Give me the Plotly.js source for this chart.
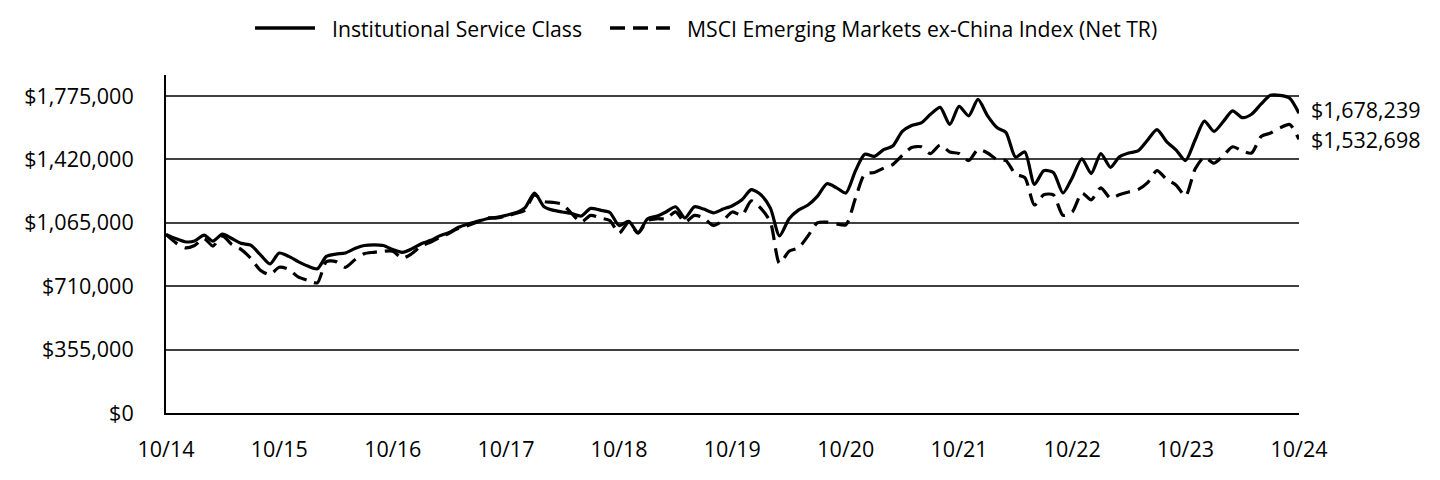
<!DOCTYPE html>
<html>
<head>
<meta charset="utf-8">
<script src="https://cdn.plot.ly/plotly-3.0.1.min.js"></script>
<style>html,body{margin:0;padding:0;background:#fff;}#chart{width:1440px;height:480px;}</style>
</head>
<body>
<div id="chart"></div>
<script>
// Monthly values, Oct 2014 .. Oct 2024 (121 points)
const institutionalServiceClass = [
  1000000, 977000, 959000, 963000, 996000, 963000, 1002000, 977000, 950000, 940000,
  887000, 835000, 896000, 877000, 848000, 823000, 808000, 877000, 890000, 896000,
  921000, 938000, 942000, 938000, 915000, 900000, 919000, 948000, 967000, 992000,
  1011000, 1040000, 1059000, 1073000, 1088000, 1096000, 1107000, 1121000, 1149000, 1232000,
  1155000, 1136000, 1126000, 1117000, 1103000, 1146000, 1136000, 1123000, 1050000, 1073000,
  1011000, 1088000, 1103000, 1126000, 1155000, 1092000, 1155000, 1142000, 1121000, 1142000,
  1161000, 1194000, 1251000, 1222000, 1146000, 992000, 1088000, 1136000, 1165000, 1213000,
  1284000, 1261000, 1232000, 1357000, 1449000, 1437000, 1476000, 1495000, 1577000, 1610000,
  1625000, 1673000, 1712000, 1616000, 1717000, 1664000, 1756000, 1664000, 1597000, 1572000,
  1433000, 1462000, 1280000, 1357000, 1347000, 1232000, 1318000, 1424000, 1341000, 1453000,
  1376000, 1433000, 1456000, 1468000, 1529000, 1587000, 1520000, 1472000, 1414000, 1529000,
  1635000, 1577000, 1635000, 1692000, 1654000, 1673000, 1731000, 1779000, 1779000, 1763000,
  1678239
];
const msciEmExChina = [
  1000000, 954000, 925000, 938000, 977000, 935000, 992000, 944000, 915000, 867000,
  800000, 775000, 816000, 804000, 762000, 743000, 729000, 848000, 848000, 816000,
  858000, 892000, 900000, 906000, 906000, 867000, 892000, 935000, 958000, 982000,
  1007000, 1034000, 1050000, 1069000, 1092000, 1092000, 1103000, 1117000, 1136000, 1222000,
  1184000, 1180000, 1169000, 1117000, 1069000, 1107000, 1092000, 1078000, 1007000, 1069000,
  1007000, 1078000, 1088000, 1088000, 1126000, 1069000, 1107000, 1092000, 1050000, 1078000,
  1126000, 1107000, 1188000, 1146000, 1069000, 839000, 906000, 925000, 992000, 1065000,
  1069000, 1059000, 1054000, 1203000, 1338000, 1347000, 1372000, 1391000, 1443000, 1487000,
  1491000, 1453000, 1501000, 1462000, 1453000, 1414000, 1476000, 1456000, 1418000, 1414000,
  1338000, 1318000, 1165000, 1222000, 1222000, 1107000, 1126000, 1232000, 1194000, 1261000,
  1203000, 1222000, 1238000, 1251000, 1290000, 1357000, 1309000, 1276000, 1215000, 1366000,
  1433000, 1399000, 1443000, 1491000, 1468000, 1456000, 1549000, 1568000, 1597000, 1616000,
  1532698
];
const seriesNames = ["Institutional Service Class", "MSCI Emerging Markets ex-China Index (Net TR)"];
const endLabels = ["$1,678,239", "$1,532,698"];
const xTickVals = ["2014-10-01","2015-10-01","2016-10-01","2017-10-01","2018-10-01","2019-10-01","2020-10-01","2021-10-01","2022-10-01","2023-10-01","2024-10-01"];
const xTickText = ["10/14","10/15","10/16","10/17","10/18","10/19","10/20","10/21","10/22","10/23","10/24"];
const yTickVals = [0, 355000, 710000, 1065000, 1420000, 1775000];
const yTickText = ["$0","$355,000","$710,000","$1,065,000","$1,420,000","$1,775,000"];

// month axis
const months = [];
for (let i = 0; i < institutionalServiceClass.length; i++) {
  const y = 2014 + Math.floor((9 + i) / 12);
  const m = ((9 + i) % 12) + 1;
  months.push(y + "-" + String(m).padStart(2, "0") + "-01");
}

const FONT = "Open Sans, Noto Sans, sans-serif";
const FS = 21.5;
const LFS = 21.2;
const DASH = "15px,8px";

const traces = [
  {
    x: months, y: institutionalServiceClass, name: seriesNames[0], type: "scatter", mode: "lines",
    line: {color: "#000", width: 3.2, shape: "spline", smoothing: 0.7},
    hoverinfo: "skip", showlegend: false
  },
  {
    x: months, y: msciEmExChina, name: seriesNames[1], type: "scatter", mode: "lines",
    line: {color: "#000", width: 3.2, dash: DASH, shape: "spline", smoothing: 0.7},
    hoverinfo: "skip", showlegend: false
  }
];

// custom legend (paper coordinates)
const legY = 1.139;
const shapes = [
  {type: "line", xref: "paper", yref: "paper", x0: 0.0786, x1: 0.1315, y0: legY, y1: legY,
   line: {color: "#000", width: 3.5}},
  {type: "line", xref: "paper", yref: "paper", x0: 0.3919, x1: 0.4448, y0: legY, y1: legY,
   line: {color: "#000", width: 3.5, dash: DASH}}
];

const annotations = [
  {xref: "paper", yref: "paper", x: 0.1450, y: legY, text: seriesNames[0], showarrow: false,
   xanchor: "left", yanchor: "middle", font: {family: FONT, size: LFS, color: "#000"}},
  {xref: "paper", yref: "paper", x: 0.4582, y: legY, text: seriesNames[1], showarrow: false,
   xanchor: "left", yanchor: "middle", font: {family: FONT, size: LFS, color: "#000"}},
  {x: months[months.length - 1], y: institutionalServiceClass[institutionalServiceClass.length - 1],
   xref: "x", yref: "y", text: endLabels[0], showarrow: false, xanchor: "left", yanchor: "middle",
   xshift: 10, yshift: 4, font: {family: FONT, size: FS, color: "#000"}},
  {x: months[months.length - 1], y: msciEmExChina[msciEmExChina.length - 1],
   xref: "x", yref: "y", text: endLabels[1], showarrow: false, xanchor: "left", yanchor: "middle",
   xshift: 10, yshift: 0, font: {family: FONT, size: FS, color: "#000"}}
];

const layout = {
  width: 1440, height: 480,
  margin: {l: 166, r: 141, t: 75, b: 67, pad: 0},
  paper_bgcolor: "#fff", plot_bgcolor: "#fff",
  font: {family: FONT, size: FS, color: "#000"},
  showlegend: false,
  xaxis: {
    type: "date",
    range: [months[0], months[months.length - 1]],
    tickmode: "array", tickvals: xTickVals, ticktext: xTickText,
    showgrid: false, zeroline: false,
    showline: true, linecolor: "#000", linewidth: 2,
    ticks: "", ticklabelstandoff: 16,
    tickfont: {family: FONT, size: FS, color: "#000"},
    fixedrange: true
  },
  yaxis: {
    range: [0, 1893000],
    tickmode: "array", tickvals: yTickVals, ticktext: yTickText,
    showgrid: true, gridcolor: "#404040", gridwidth: 2,
    zeroline: false,
    showline: true, linecolor: "#000", linewidth: 2,
    ticks: "", ticklabelstandoff: 26,
    tickfont: {family: FONT, size: FS, color: "#000"},
    fixedrange: true
  },
  shapes: shapes,
  annotations: annotations
};

Plotly.newPlot("chart", traces, layout, {displayModeBar: false, staticPlot: true});
</script>
</body>
</html>
